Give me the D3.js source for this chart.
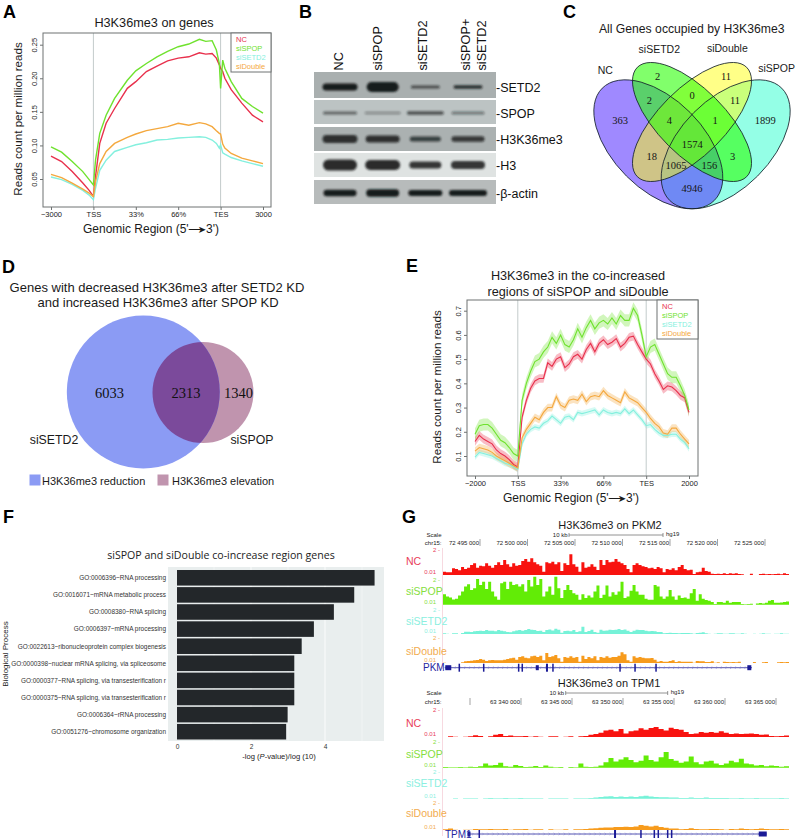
<!DOCTYPE html>
<html><head><meta charset="utf-8">
<script src="https://cdn.jsdelivr.net/npm/d3@7"></script>
<style>html,body{margin:0;padding:0;background:#fff}svg{display:block}text{font-family:"Liberation Sans",Arial,sans-serif}</style>
</head><body><div id="c"></div>
<script>
// ---------- DATA ----------
const seriesNames = ["NC","siSPOP","siSETD2","siDouble"];
const regionLabels = ["−3000","TSS","33%","66%","TES","3000"];
const regionLabelsE = ["−2000","TSS","33%","66%","TES","2000"];
const regionTicks = [0,1,2,3,4,5];

// Panel A
const posA = [0,.25,.5,.75,.9,1,1.05,1.15,1.3,1.5,1.8,2,2.25,2.5,2.75,3,3.25,3.5,3.65,3.8,3.9,3.97,4,4.05,4.1,4.25,4.5,4.75,5];
const aNC = [.084,.076,.061,.044,.033,.024,.054,.103,.133,.155,.185,.195,.210,.218,.226,.230,.232,.238,.236,.237,.230,.220,.215,.210,.200,.183,.163,.145,.135];
const aSPOP = [.098,.090,.076,.061,.049,.041,.078,.118,.145,.170,.197,.211,.222,.232,.240,.247,.251,.258,.255,.256,.242,.222,.185,.227,.215,.195,.170,.158,.148];
const aSETD2 = [.053,.049,.042,.033,.026,.019,.036,.063,.078,.091,.097,.101,.104,.108,.109,.111,.112,.113,.112,.108,.103,.096,.101,.089,.087,.082,.077,.073,.069];
const aDouble = [.057,.052,.044,.035,.029,.024,.046,.073,.091,.103,.112,.117,.122,.125,.128,.133,.130,.134,.132,.128,.122,.118,.117,.102,.096,.088,.081,.077,.073];
const yTicksA = [.05,.10,.15,.20,.25];

// Panel B
const laneNames = ["NC","siSPOP","siSETD2","siSPOP+ siSETD2"];
const blotTargets = ["SETD2","SPOP","H3K36me3","H3","β-actin"];
const blotWidth = [[35,32,29,29],[34,36,37,33],[35,34,31,33],[34,35,32,34],[33,33,34,38]];
const blotThick = [[7,10,3,3.5],[3,2.5,3.5,3],[8,7,5,5.5],[11,10,7,8],[6.5,7.5,6,6]];
const blotDark = [[1,1,.65,.85],[.55,.35,.65,.45],[.85,.85,.75,.8],[.9,.9,.85,.85],[1,1,1,1]];
const blotBack = ["#a9afaf","#bcc3c3","#abb1b1","#dfe3e2","#b7bbbb"];

// Panel C
const vennNames = ["siSPOP","NC","siDouble","siSETD2"];
const vennCounts = [2,11,2,0,11,363,4,1,1899,1574,18,3,1065,156,4946];

// Panel D
const dCounts = [6033,2313,1340];
const dLegend = ["H3K36me3 reduction","H3K36me3 elevation"];

// Panel E
const ePos = d3.range(51);
const eNC = [.16,.185,.17,.16,.15,.125,.11,.10,.085,.065,.055,.26,.33,.38,.41,.42,.42,.485,.47,.50,.51,.465,.48,.51,.52,.50,.54,.565,.53,.565,.58,.56,.57,.585,.55,.565,.59,.595,.56,.53,.50,.48,.44,.41,.375,.39,.385,.37,.35,.34,.28];
const eSPOP = [.19,.225,.23,.23,.215,.19,.165,.155,.135,.11,.10,.33,.40,.45,.49,.50,.53,.55,.59,.565,.60,.56,.55,.58,.625,.59,.63,.66,.625,.65,.66,.645,.67,.645,.68,.66,.66,.71,.68,.60,.51,.55,.56,.52,.48,.44,.425,.425,.39,.35,.29];
const eSETD2 = [.095,.115,.11,.105,.10,.09,.08,.07,.065,.055,.045,.15,.19,.21,.22,.215,.235,.245,.265,.25,.235,.26,.265,.25,.28,.275,.28,.285,.29,.27,.29,.28,.275,.28,.275,.295,.275,.29,.27,.25,.225,.23,.21,.195,.185,.185,.19,.19,.17,.155,.13];
const eDouble = [.12,.135,.13,.125,.115,.10,.09,.08,.07,.06,.05,.175,.21,.235,.26,.25,.28,.30,.30,.345,.31,.30,.33,.335,.33,.355,.325,.345,.35,.345,.37,.35,.34,.33,.32,.365,.34,.33,.32,.30,.28,.255,.235,.22,.195,.19,.215,.215,.19,.17,.15];
const eBand = [.018,.025,.012,.016];
const yTicksE = [.1,.2,.3,.4,.5,.6,.7];

// Panel F
const goTerms = ["GO:0006396~RNA processing","GO:0016071~mRNA metabolic process","GO:0008380~RNA splicing","GO:0006397~mRNA processing","GO:0022613~ribonucleoprotein complex biogenesis","GO:0000398~nuclear mRNA splicing, via spliceosome","GO:0000377~RNA splicing, via transesterification r","GO:0000375~RNA splicing, via transesterification r","GO:0006364~rRNA processing","GO:0051276~chromosome organization"];
const goValues = [5.34,4.79,4.24,3.70,3.37,3.17,3.17,3.17,2.99,2.95];
const goTicks = [0,2,4];

// Panel G
const pkmTicks = [72495,72500,72505,72510,72515,72520,72525];
const pkmNC = [10,8,8,20,18,14,24,18,22,30,35,22,28,26,35,28,22,30,38,30,45,32,25,35,28,30,42,48,40,50,38,32,28,10,38,35,40,32,38,12,35,30,62,32,25,10,38,22,25,32,25,15,45,30,45,38,40,48,40,35,30,18,8,30,35,30,
  26,24,20,22,18,24,20,8,18,16,20,14,24,30,18,14,16,3,8,10,22,12,10,4,3,4,3,5,3,5,4,5,3,2,0,0,4,0,0,3,4,2,3,2,3,4,2,5,3,7];
const pkmSPOP = [32,25,22,16,18,28,40,55,62,45,50,78,60,70,48,70,40,25,15,65,70,48,70,60,62,55,62,40,75,55,85,60,78,25,40,55,30,85,50,20,45,60,45,35,30,15,32,20,28,22,40,58,20,30,58,25,38,30,40,70,20,25,42,60,40,30,
  30,18,15,15,60,55,25,18,25,45,25,15,28,20,22,18,35,48,12,32,18,14,12,8,2,8,8,6,12,6,8,8,8,2,1,2,3,0,4,5,4,6,12,14,6,6,7,8,10,4];
const pkmSETD2 = [2,1,0,2,2,0,3,7,7,6,8,9,10,9,12,10,10,8,12,10,8,6,5,8,11,12,10,12,15,13,12,9,10,6,12,14,11,16,13,4,9,10,8,12,6,8,22,6,9,13,6,4,13,10,11,13,12,13,15,12,14,10,6,10,13,12,
  12,10,8,9,8,6,6,2,3,4,3,3,2,3,3,3,2,1,3,4,5,2,1,0,1,2,2,1,1,2,2,1,1,2,1,0,0,1,0,1,2,1,1,0,1,1,2,1,1,1];
const pkmDouble = [1,0,0,0,0,0,2,5,6,7,8,9,12,10,6,8,9,8,8,8,10,12,14,16,10,18,20,16,14,20,22,18,22,8,30,18,20,24,14,4,18,16,20,16,18,4,22,12,18,14,20,8,18,16,20,16,18,18,22,32,26,8,4,20,16,18,
  16,14,14,15,10,4,6,4,4,6,8,3,5,4,4,4,4,1,6,5,5,3,3,5,1,2,0,4,3,2,3,2,4,0,0,0,0,3,0,0,2,3,0,0,0,2,3,2,3,2];
const tpmTicks = [63335,63340,63345,63350,63355,63360,63365];
const tpmNC = [0,2,1,0,1,2,5,3,0,2,6,8,3,4,2,2,3,1,2,1,0,2,2,0,1,2,0,2,3,6,8,12,18,20,16,22,10,16,18,24,20,25,28,22,18,26,22,20,14,8,10,14,12,14,12,16,12,8,10,8,9,10,8,6,7,3,2,3,4,3];
const tpmSPOP = [2,1,1,2,1,3,2,4,12,6,8,14,4,3,8,5,2,3,5,2,6,3,1,2,0,2,1,12,3,2,3,6,16,28,18,24,30,22,16,20,35,22,18,30,45,25,20,14,18,32,16,10,18,20,12,8,12,20,16,26,12,10,6,8,4,6,5,3,4,2];
const tpmSETD2 = [0,0,1,0,1,1,1,0,1,2,1,1,2,1,1,2,1,1,1,1,0,1,1,1,1,0,1,1,1,2,3,5,6,7,5,6,5,6,5,7,8,6,5,4,4,3,3,2,2,3,2,2,3,2,2,2,2,1,1,2,1,1,2,1,1,1,1,2,1,1];
const tpmDouble = [2,4,1,0,1,1,3,2,2,3,2,2,3,1,2,2,3,1,2,2,0,2,1,1,2,0,2,2,3,4,5,6,7,7,8,8,9,8,10,14,12,10,12,8,6,4,4,2,3,5,3,2,2,3,3,2,1,3,2,4,3,2,3,4,3,2,2,3,2,1];
const pkmExons = [72491.66,72492.82,72495.39,72499.07,72499.45,72501.03,72502.05,72502.68,72509.74,72511.32,72513.53,72523.35];
const pkmExonThick = [6,1.5,1.5,1.5,1.5,3,2,1.5,1.5,1.5,1.5,4];
const tpmExons = [63334.9,63335.91,63349.22,63351.76,63353.07,63353.46,63354.38,63354.77,63363.7];
const tpmExonThick = [3,1.5,2,1.5,1.5,1.5,1.5,1.5,8];

// ---------- STYLE ----------
const lineCol = {NC:"#e8304c",siSPOP:"#6fe22e",siSETD2:"#84f0de",siDouble:"#f4a83e"};
const labelCol = {NC:"#e8405a",siSPOP:"#86de40",siSETD2:"#8cefe0",siDouble:"#f2ac50"};
const trackCol = {NC:"#f8130f",siSPOP:"#62ec06",siSETD2:"#76f2d8",siDouble:"#f79b1c"};
const axisGrey = "#6e7272";

const svg = d3.select("#c").append("svg").attr("width",796).attr("height",840).attr("viewBox","0 0 796 840");
const defs = svg.append("defs");
defs.append("filter").attr("id","bl").attr("x","-20%").attr("y","-100%").attr("width","140%").attr("height","300%")
  .append("feGaussianBlur").attr("stdDeviation",1.1);

function txt(g,x,y,s,o={}){
  const t=g.append("text").attr("x",x).attr("y",y).text(s)
    .attr("font-size",o.size||12).attr("fill",o.fill||"#1a1a1a").attr("text-anchor",o.anchor||"start");
  if(o.weight) t.attr("font-weight",o.weight);
  if(o.family) t.style("font-family",o.family);
  if(o.rot!==undefined) t.attr("transform",`rotate(${o.rot} ${x} ${y})`);
  return t;
}
[["A",3,18],["B",299,18],["C",563,18],["D",2,273],["E",406,272],["F",3,523],["G",402,523]]
  .forEach(d=>txt(svg,d[1],d[2],d[0],{size:18,weight:"bold",fill:"#000"}));

// ---------- line panels ----------
function profile(o){
  const g=svg.append("g");
  const x=d3.scaleLinear().domain([0,5]).range(o.xr);
  const y=d3.scaleLinear().domain(o.yd).range(o.yr);
  if(o.bands){
    o.series.forEach((s,i)=>{
      g.append("path").datum(s).attr("fill",lineCol[seriesNames[i]]).attr("fill-opacity",.32)
       .attr("d",d3.area().x((d,j)=>x(o.pos[j])).y0(d=>y(d-o.bands[i])).y1(d=>y(d+o.bands[i])));
    });
  }
  [1,4].forEach(v=>g.append("line").attr("x1",x(v)).attr("x2",x(v)).attr("y1",o.box[1]).attr("y2",o.box[3]).attr("stroke","#c3cbcb").attr("stroke-width",1));
  [0,1,2,3].forEach(i=>{
    g.append("path").datum(o.series[i]).attr("fill","none").attr("stroke",lineCol[seriesNames[i]]).attr("stroke-width",o.lw)
     .attr("d",d3.line().x((d,j)=>x(o.pos[j])).y(d=>y(d)));
  });
  g.append("rect").attr("x",o.box[0]).attr("y",o.box[1]).attr("width",o.box[2]-o.box[0]).attr("height",o.box[3]-o.box[1])
    .attr("fill","none").attr("stroke",axisGrey).attr("stroke-width",1);
  const ax=g.append("g").attr("transform",`translate(0,${o.box[3]})`)
    .call(d3.axisBottom(x).tickValues(regionTicks).tickFormat((d,i)=>o.labels[i]).tickSize(3).tickPadding(2));
  ax.select(".domain").remove();
  ax.selectAll("line").attr("stroke",axisGrey);
  ax.selectAll("text").attr("font-size",7.5).attr("fill","#222").style("font-family",'"Liberation Sans"');
  const ay=g.append("g").attr("transform",`translate(${o.box[0]},0)`)
    .call(d3.axisLeft(y).tickValues(o.yt).tickFormat(d3.format(o.fmt)).tickSize(3));
  ay.select(".domain").remove();
  ay.selectAll("line").attr("stroke",axisGrey);
  ay.selectAll("g.tick text").attr("font-size",7.5).attr("fill","#222").style("font-family",'"Liberation Sans"')
    .attr("text-anchor","middle").attr("dy",0).attr("transform","rotate(-90)").attr("x",0).attr("y",-6);
  const l=o.legend;
  g.append("rect").attr("x",l[0]).attr("y",l[1]).attr("width",l[2]-l[0]).attr("height",l[3]-l[1]).attr("fill","#fff").attr("stroke",axisGrey);
  seriesNames.forEach((n,i)=>txt(g,l[0]+5,l[1]+8.5+i*9.3,n,{size:7.5,fill:lineCol[n]}));
  txt(g,o.ylab[0],o.ylab[1],"Reads count per million reads",{size:11.6,anchor:"middle",rot:-90});
  const xl=txt(g,o.xlab[0],o.xlab[1],"",{size:12,anchor:"middle"});
  xl.append("tspan").text("Genomic Region (5'");
  xl.append("tspan").text("—").attr("letter-spacing",-3);
  xl.append("tspan").text("➤").style("font-family",'"DejaVu Sans"').attr("font-size",10);
  xl.append("tspan").text("3')");
}
profile({xr:[51,263],yd:[.05,.25],yr:[179,44.7],box:[43,33,271,207],series:[aNC,aSPOP,aSETD2,aDouble],pos:posA,lw:1.4,
  labels:regionLabels,yt:yTicksA,fmt:".2f",legend:[231,33,271,72],ylab:[22,119],xlab:[151,233]});
txt(svg,154,27,"H3K36me3 on genes",{size:12.7,anchor:"middle"});

const eScale=d3.scaleLinear().domain([0,50]).range([0,5]);
profile({xr:[475,689],yd:[.1,.7],yr:[456,310.7],box:[467,300,698,476],series:[eNC,eSPOP,eSETD2,eDouble],pos:ePos.map(eScale),lw:1.1,bands:eBand,
  labels:regionLabelsE,yt:yTicksE,fmt:".1f",legend:[657,300,698,339],ylab:[441,387],xlab:[571,501.7]});
txt(svg,578,280,"H3K36me3 in the co-increased",{size:12.7,anchor:"middle"});
txt(svg,578,296,"regions of siSPOP and siDouble",{size:12.7,anchor:"middle"});

// ---------- Panel B ----------
(function(){
  const g=svg.append("g");
  const rowTop=[72,100,127,153,180], rowBot=[98,124,151,177,204], rowBand=[87,113,139,165,193];
  const lanes=d3.scalePoint().domain(d3.range(4)).range([340,468]);
  blotTargets.forEach((t,r)=>{
    g.append("rect").attr("x",314).attr("width",182).attr("y",rowTop[r]).attr("height",rowBot[r]-rowTop[r]).attr("fill",blotBack[r]);
    g.append("g").attr("filter","url(#bl)").selectAll("rect").data(d3.range(4)).join("rect")
      .attr("x",i=>lanes(i)-blotWidth[r][i]/2).attr("width",i=>blotWidth[r][i])
      .attr("y",i=>rowBand[r]-blotThick[r][i]/2).attr("height",i=>blotThick[r][i])
      .attr("rx",i=>blotThick[r][i]/2)
      .attr("fill","#161a1a").attr("fill-opacity",i=>blotDark[r][i]);
    txt(g,496,rowBand[r]+4.5,"-"+t,{size:12.5,fill:"#111"});
  });
  const lab=[[laneNames[0],343],[laneNames[1],382],[laneNames[2],427],["siSPOP+",470],["siSETD2",485.5]];
  lab.forEach(d=>txt(g,d[1],70.5,d[0],{size:12.7,rot:-90,fill:"#111"}));
})();

// ---------- Panel C ----------
(function(){
  const g=svg.append("g");
  const shapes=[
    {c:"#3cffd2",a:.55,x:725.7,y:144.3,rx:79.3,ry:45,r:-45},
    {c:"#5028ff",a:.55,x:658.3,y:144.3,rx:79.3,ry:45,r:45},
    {c:"#ffff10",a:.5,x:692,y:122,rx:77.3,ry:33.3,r:-45},
    {c:"#2dff08",a:.6,x:692,y:122,rx:77.3,ry:33.3,r:45}];
  g.selectAll("ellipse.f").data(shapes).join("ellipse").attr("class","f")
    .attr("rx",d=>d.rx).attr("ry",d=>d.ry).attr("transform",d=>`translate(${d.x},${d.y}) rotate(${d.r})`)
    .attr("fill",d=>d.c).attr("fill-opacity",d=>d.a);
  g.selectAll("ellipse.s").data(shapes).join("ellipse").attr("class","s")
    .attr("rx",d=>d.rx).attr("ry",d=>d.ry).attr("transform",d=>`translate(${d.x},${d.y}) rotate(${d.r})`)
    .attr("fill","none").attr("stroke","#14202a").attr("stroke-width",.8);
  const pos=[[413,230],[618,230],[388,300],[516,285],[645,300],[300,360],[448,360],[585,360],[736,360],[517,433],[395,468],[638,468],[468,497],[568,495],[516,564]];
  vennCounts.forEach((v,i)=>{
    txt(g,520+pos[i][0]/3,pos[i][1]/3+3.5,v,{size:10.5,anchor:"middle",family:'"Liberation Serif"',fill:"#161616"});
  });
  const lp=[[770,217],[256,222],[622,156],[418,159]];
  vennNames.forEach((n,i)=>txt(g,520+lp[i][0]/3,lp[i][1]/3,n,{size:10.5,anchor:"middle"}));
  txt(g,691.7,33,"All Genes occupied by H3K36me3",{size:12.2,anchor:"middle"});
})();

// ---------- Panel D ----------
(function(){
  const g=svg.append("g");
  const C1={x:143.3,y:392,r:76.5}, C2={x:203,y:392.5,r:50.5};
  defs.append("clipPath").attr("id","c1").append("circle").attr("cx",C1.x).attr("cy",C1.y).attr("r",C1.r);
  g.append("circle").attr("cx",C2.x).attr("cy",C2.y).attr("r",C2.r).attr("fill","#c094ae");
  g.append("circle").attr("cx",C1.x).attr("cy",C1.y).attr("r",C1.r).attr("fill","#8b9bf4");
  g.append("circle").attr("cx",C2.x).attr("cy",C2.y).attr("r",C2.r).attr("fill","#7b4a9b").attr("clip-path","url(#c1)");
  const cp=[109.5,186,238.5];
  dCounts.forEach((v,i)=>txt(g,cp[i],398,v,{size:14.5,anchor:"middle",family:'"Liberation Serif"',fill:"#111"}));
  txt(g,54,443.5,"siSETD2",{size:12.3,anchor:"middle"});
  txt(g,252,443.5,"siSPOP",{size:12.3,anchor:"middle"});
  txt(g,157,292,"Genes with decreased H3K36me3 after SETD2 KD",{size:13,anchor:"middle"});
  txt(g,158,307,"and increased H3K36me3 after SPOP KD",{size:13,anchor:"middle"});
  const lx=[29.5,157.5], tx=[42,172], lc=["#8b9bf4","#c094ae"];
  dLegend.forEach((s,i)=>{
    g.append("rect").attr("x",lx[i]).attr("y",474.5).attr("width",11).attr("height",11).attr("fill",lc[i]);
    txt(g,tx[i],484.5,s,{size:11});
  });
})();

// ---------- Panel F ----------
(function(){
  const g=svg.append("g");
  const x=d3.scaleLinear().domain([0,4]).range([177,325]);
  const y=d3.scaleBand().domain(goTerms).range([569.5,740]).paddingInner(.09).paddingOuter(.03);
  g.append("rect").attr("x",168).attr("y",567).attr("width",216).attr("height",174).attr("fill","#e9eeee");
  [1,2,3,4,5].forEach(v=>g.append("line").attr("x1",x(v)).attr("x2",x(v)).attr("y1",567).attr("y2",741).attr("stroke","#fff").attr("stroke-width",v%2?.4:.8));
  g.selectAll("rect.b").data(goTerms).join("rect").attr("class","b")
    .attr("x",x(0)).attr("y",d=>y(d)).attr("height",y.bandwidth())
    .attr("width",(d,i)=>x(goValues[i])-x(0)).attr("fill","#23272a");
  goTerms.forEach(t=>txt(g,166,y(t)+y.bandwidth()/2+2.4,t,{size:6.45,anchor:"end",fill:"#333"}));
  const ax=g.append("g").attr("transform","translate(0,741)").call(d3.axisBottom(x).tickValues(goTicks).tickFormat(d3.format("d")).tickSize(0).tickPadding(3));
  ax.select(".domain").remove();
  ax.selectAll("text").attr("font-size",6.6).attr("fill","#333").style("font-family",'"Liberation Sans"');
  const tl=txt(g,279,759,"",{size:7.6,anchor:"middle",fill:"#222"});
  tl.append("tspan").text("-log (");
  tl.append("tspan").text("P").attr("font-style","italic");
  tl.append("tspan").text("-value)/log (10)");
  txt(g,8,654,"Biological Process",{size:8,anchor:"middle",rot:-90,fill:"#222"});
  txt(g,221,559,"siSPOP and siDouble co-increase region genes",{size:10.6,anchor:"middle",family:'"Open Sans"',fill:"#222"});
})();

// ---------- Panel G ----------
function tracks(o){
  const g=svg.append("g");
  const gx=d3.scaleLinear().domain(o.gd).range(o.gr);
  txt(g,o.cx,o.titleY,o.title,{size:11,anchor:"middle"});
  txt(g,441.5,o.scaleY+2,"Scale",{size:6,anchor:"end",fill:"#222"});
  txt(g,441.5,o.chrY+2,"chr15:",{size:6,anchor:"end",fill:"#222"});
  g.append("path").attr("d",`M${o.bar[0]},${o.scaleY-2}v4M${o.bar[0]},${o.scaleY}H${o.bar[1]}M${o.bar[1]},${o.scaleY-2}v4`).attr("stroke","#777").attr("fill","none").attr("stroke-width",.8);
  txt(g,o.bar[0]-1.5,o.scaleY+2,"10 kb",{size:6,anchor:"end",fill:"#222"});
  txt(g,o.bar[1]+3,o.scaleY+1,"hg19",{size:6,fill:"#222"});
  o.ticks.forEach((t,i)=>{
    const X=gx(t);
    g.append("line").attr("x1",X).attr("x2",X).attr("y1",o.chrY-4).attr("y2",o.chrY+3).attr("stroke","#666").attr("stroke-width",.6);
    if(o.hideFirst&&i==0) return;
    const s=String(t);
    txt(g,X-1,o.chrY+2,`${s.slice(0,2)} ${s.slice(2)} 000`,{size:6,anchor:"end",fill:"#222"});
  });
  g.append("line").attr("x1",442.5).attr("x2",442.5).attr("y1",o.rows[0].top-2).attr("y2",o.rows[3].base+6).attr("stroke","#f3c9d3").attr("stroke-width",.7);
  seriesNames.forEach((n,i)=>{
    const r=o.rows[i], arr=o.data[i];
    const tx=d3.scaleLinear().domain([0,arr.length-1]).range([443,789]);
    const ty=d3.scaleLinear().domain([0,75]).range([r.base,r.top]);
    g.append("path").datum(arr).attr("fill",trackCol[n])
      .attr("d",d3.area().curve(d3.curveStepAfter).x((d,j)=>tx(j)).y0(r.base).y1(d=>ty(d)));
    txt(g,406,r.lab,n,{size:10.5,fill:labelCol[n]});
    txt(g,440,r.top+2.2,"2 -",{size:6,anchor:"end",fill:labelCol[n]});
    txt(g,436,r.base-1,"0.01",{size:6,anchor:"end",fill:labelCol[n]});
  });
  const gy=o.geneY;
  g.append("line").attr("x1",gx(o.geneSpan[0])).attr("x2",gx(o.geneSpan[1])).attr("y1",gy).attr("y2",gy).attr("stroke","#2a2a9c").attr("stroke-width",.8);
  g.selectAll("path.ch").data(d3.range(o.geneSpan[0],o.geneSpan[1],.5)).join("path").attr("class","ch")
    .attr("d",d=>`M${gx(d)-o.dir},${gy-1.3}l${1.3*o.dir},1.3l${-1.3*o.dir},1.3`).attr("fill","none").attr("stroke","#7a7ad0").attr("stroke-width",.5);
  g.selectAll("rect.ex").data(o.exons).join("rect").attr("class","ex")
    .attr("x",(d,i)=>gx(d)-o.exThick[i]/2).attr("width",(d,i)=>o.exThick[i])
    .attr("y",(d,i)=>gy-(o.exThick[i]>2.5?2.5:4)).attr("height",(d,i)=>o.exThick[i]>2.5?5:8)
    .attr("fill","#1a1a96");
  txt(g,o.geneX,gy+3.5,o.gene,{size:10,fill:"#2525a0"});
}
tracks({title:"H3K36me3 on PKM2",cx:610,titleY:529,scaleY:535,chrY:543,bar:[569,663],gd:[72495,72525],gr:[480,765],ticks:pkmTicks,dir:-1,
  rows:[{top:550,base:575,lab:565},{top:580,base:604.7,lab:595},{top:609.3,base:634,lab:625},{top:638,base:663,lab:655}],
  data:[pkmNC,pkmSPOP,pkmSETD2,pkmDouble],geneY:667.7,geneSpan:[72491.32,72523.63],exons:pkmExons,exThick:pkmExonThick,gene:"PKM",geneX:423});
tracks({title:"H3K36me3 on TPM1",cx:609,titleY:687,scaleY:693,chrY:702,bar:[565.7,667.7],gd:[63340,63365],gr:[521,776],ticks:tpmTicks,hideFirst:true,dir:1,
  rows:[{top:710,base:737,lab:727},{top:741.7,base:767.7,lab:758},{top:771.7,base:798.7,lab:787},{top:803,base:830,lab:817}],
  data:[tpmNC,tpmSPOP,tpmSETD2,tpmDouble],geneY:834,geneSpan:[63334.8,63364.09],exons:tpmExons,exThick:tpmExonThick,gene:"TPM1",geneX:445});
</script></body></html>
